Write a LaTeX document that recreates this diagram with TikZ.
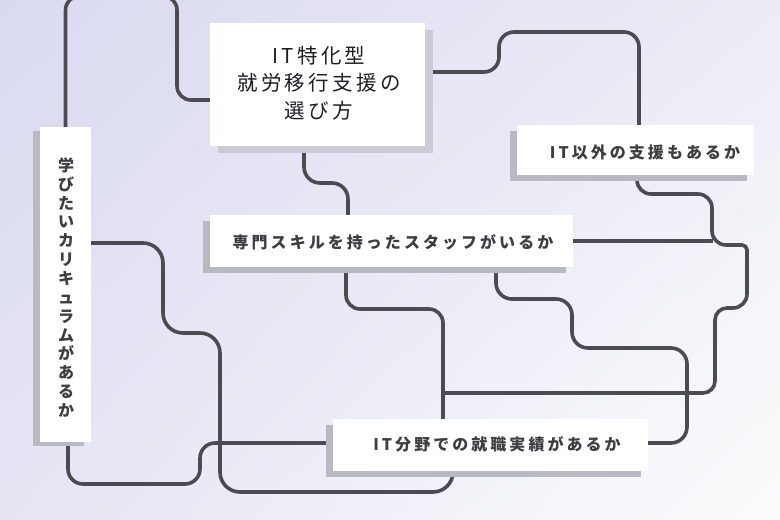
\documentclass[tikz,border=0pt]{standalone}
\usepackage{fontspec}
\usetikzlibrary{shadows,shadings}
\newfontfamily\jptitle{Noto Sans CJK JP}[LetterSpace=16]
\newfontfamily\jplabel{Noto Sans CJK JP}[LetterSpace=19]
\newfontfamily\jpvert{Noto Sans CJK JP}
\definecolor{bgA}{HTML}{D9D9F1}
\definecolor{bgB}{HTML}{ECECF6}
\definecolor{bgC}{HTML}{E5E5F4}
\definecolor{bgD}{HTML}{FCFCFD}
\definecolor{wc}{HTML}{4B4B52}
\definecolor{shd}{HTML}{B9B9C3}
\definecolor{shl}{HTML}{CBCBD8}
\definecolor{txt}{HTML}{3E3E42}
\definecolor{ttl}{HTML}{1E1E22}
\pgfdeclarelayer{back}
\pgfdeclarelayer{wires}
\pgfsetlayers{back,wires,main}
\begin{document}
\begin{tikzpicture}[x=1pt,y=-1pt,
  box/.style={fill=white, draw=none, inner sep=0pt},
  shL/.style={general shadow={fill=shd, shadow xshift=-7pt, shadow yshift=-6pt}},
  shT/.style={general shadow={fill=shl, shadow xshift=8pt, shadow yshift=-7pt}},
  wire/.style={draw=wc, line width=3.6pt},
  lbl/.style={font=\jplabel\bfseries\fontsize{16pt}{19pt}\selectfont, text=txt, inner sep=0pt}]
\useasboundingbox (0,0) rectangle (780,520);
\begin{pgfonlayer}{back}
\shade[upper left=bgA, upper right=bgB, lower left=bgC, lower right=bgD] (0,0) rectangle (780,520);
\end{pgfonlayer}

% boxes
\node[box, shT, minimum width=215pt, minimum height=123pt] (title) at (317.5,84.5) {};
\node[box, shL, minimum width=237pt, minimum height=50pt] (b2) at (635.5,150) {};
\node[box, shL, minimum width=363pt, minimum height=52pt] (b3) at (391.5,241) {};
\node[box, general shadow={fill=shd, shadow xshift=-7pt, shadow yshift=-4pt}, minimum width=51pt, minimum height=315pt] (b4) at (65.5,284.5) {};
\node[box, shL, minimum width=315pt, minimum height=52pt] (b5) at (490.5,445) {};

% texts
\node[font=\jptitle\fontsize{20.5pt}{27.5pt}\selectfont, align=center, text=ttl, inner sep=0pt] (tt) at (319,83) {IT特化型\\就労移行支援の\\選び方};
\node[lbl] (b2t) at (645,152) {IT以外の支援もあるか};
\node[lbl] (b3t) at (393,242) {専門スキルを持ったスタッフがいるか};
\node[lbl] (b5t) at (497,444) {IT分野での就職実績があるか};
\node[font=\jpvert\bfseries\fontsize{16pt}{18.85pt}\selectfont, text=txt, align=center, inner sep=0pt] (b4t) at (66,287.5) {学\\び\\た\\い\\カ\\リ\\キ\\ュ\\ラ\\ム\\が\\あ\\る\\か};

\coordinate (jn) at (443,393);
\coordinate (mg) at (713,241);

\begin{pgfonlayer}{wires}
% A: vertical box top -> title left
\draw[wire, rounded corners=14pt] (b4.north) -- (65.5,-4) -- (177,-4) -- (177,100) -- ([yshift=-15.5pt]title.west);
% B: title bottom -> b3 top
\draw[wire, rounded corners=16pt] ([xshift=-13.5pt]title.south) -- (304,183) -- (348,183) -- ([xshift=-43.5pt]b3.north);
% C: title right -> b2 top
\draw[wire, rounded corners=15pt] ([yshift=12.5pt]title.east) -- (499,72) -- (499,32) -- (639,32) -- ([xshift=3.5pt]b2.north);
% D: b2 bottom -> junction
\draw[wire, rounded corners=14pt] ([xshift=1.5pt]b2.south) -- (637,194) -- (712,194) -- (712,245)
  [rounded corners=5pt] -- (747,245) [rounded corners=14pt] -- (747,308) [rounded corners=12pt] -- (715,308) -- (715,393)
  [rounded corners=14pt] -- (jn);
% E: b3 right -> merge
\draw[wire] (b3.east) -- (mg);
% F: b3 bottom right -> b5 right
\draw[wire, rounded corners=16pt] ([xshift=104.5pt]b3.south) -- (496,299) -- (572,299) -- (572,348) -- (687,348) -- (687,443) -- ([yshift=2pt]b5.east);
% G: b3 bottom left -> b5 top
\draw[wire, rounded corners=14pt] ([xshift=-45.5pt]b3.south) -- (346,309) -- (443,309) [rounded corners=24pt] -- ([xshift=-47.5pt]b5.north);
% H: b4 right -> b5 bottom
\draw[wire, rounded corners=20pt] ([yshift=41.5pt]b4.east) -- (163,243) -- (163,333) -- (220,333) -- (220,492) -- (453,492) [rounded corners=12pt] -- ([xshift=-37.5pt]b5.south);
% I: b4 bottom -> b5 left
\draw[wire, rounded corners=15pt] ([xshift=2.5pt]b4.south) -- (68,484) -- (200,484) -- (200,443) -- ([yshift=2pt]b5.west);
\end{pgfonlayer}
\end{tikzpicture}
\end{document}
